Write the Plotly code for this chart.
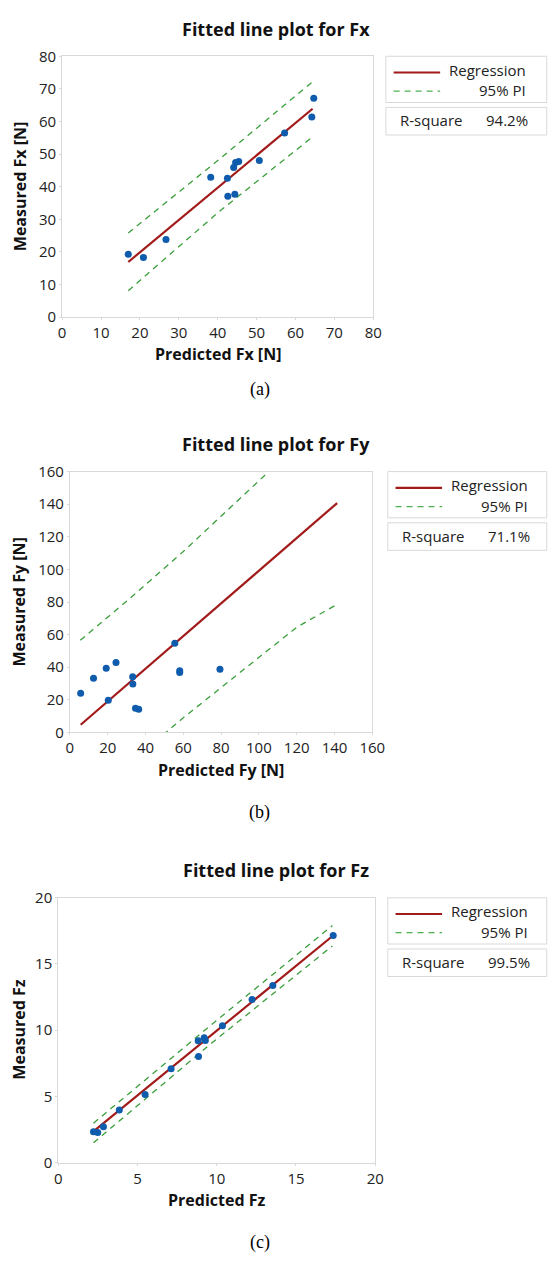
import plotly.graph_objects as go

W, H = 552, 1266

# ---------------- data ----------------
# Panel (a) Fx
pred_fx = [17.0, 20.9, 26.7, 38.2, 42.5, 42.6, 44.1, 44.6, 45.4, 44.4, 50.7, 57.2, 64.2, 64.7]
meas_fx = [19.3, 18.3, 23.8, 42.9, 42.6, 37.1, 45.9, 47.4, 47.7, 37.7, 48.0, 56.5, 61.4, 67.1]
fit_x_fx = [17.0, 64.4]
fit_y_fx = [16.9, 63.9]
pi_x_fx = [17.0, 40.0, 64.4]
pi_up_fx = [25.8, 48.0, 72.2]
pi_lo_fx = [8.1, 32.0, 55.3]
r2_fx = "94.2%"

# Panel (b) Fy
pred_fy = [5.7, 12.5, 19.2, 24.4, 20.3, 33.2, 33.3, 34.7, 36.4, 55.5, 58.1, 58.1, 79.4]
meas_fy = [24.0, 33.2, 39.3, 42.9, 19.7, 34.2, 29.7, 14.8, 14.2, 54.7, 37.8, 36.8, 38.8]
fit_x_fy = [5.7, 141.4]
fit_y_fy = [4.7, 140.7]
pi_x_fy = [5.5, 30.0, 60.0, 90.0, 120.0, 141.4]
pi_up_fy = [56.5, 80.5, 111.0, 143.0, 176.0, 203.0]
pi_lo_fy = [-46.0, -20.5, 9.0, 37.0, 64.5, 78.6]
r2_fy = "71.1%"

# Panel (c) Fz
pred_fz = [2.22, 2.49, 2.85, 3.85, 5.48, 7.12, 8.83, 8.85, 9.21, 9.28, 10.36, 12.23, 13.54, 17.35]
meas_fz = [2.33, 2.26, 2.70, 3.97, 5.13, 7.09, 9.19, 8.01, 9.42, 9.22, 10.33, 12.32, 13.38, 17.15]
fit_x_fz = [2.22, 17.35]
fit_y_fz = [2.35, 17.15]
pi_x_fz = [2.22, 9.5, 17.3]
pi_up_fz = [2.97, 10.25, 17.9]
pi_lo_fz = [1.49, 8.85, 16.36]
r2_fz = "99.5%"

titles = ["Fitted line plot for Fx", "Fitted line plot for Fy", "Fitted line plot for Fz"]
xtitles = ["Predicted Fx [N]", "Predicted Fy [N]", "Predicted Fz"]
ytitles = ["Measured Fx [N]", "Measured Fy [N]", "Measured Fz"]
captions = ["(a)", "(b)", "(c)"]
ranges = [[0, 80], [0, 160], [0, 20]]
dticks = [10, 20, 5]

# ---------------- style ----------------
RED = "#A21B1B"
GREEN = "#3A9E3A"
BLUE = "#0F5CAD"
FRAME = "#D9D9D9"
TXT = "#222222"
FONT = "Open Sans"

# plot areas in pixels: (left, right, top, bottom)
areas = [(60, 381, 46, 311), (68, 380, 468, 733), (56, 383, 901, 1170)]
legend_left = [394, 396, 396]
caption_y = [385, 814, 1251]


def px(x):
    return x / W


def py(y):
    return 1 - y / H


fig = go.Figure()

panels = [
    (pred_fx, meas_fx, fit_x_fx, fit_y_fx, pi_x_fx, pi_up_fx, pi_lo_fx, r2_fx),
    (pred_fy, meas_fy, fit_x_fy, fit_y_fy, pi_x_fy, pi_up_fy, pi_lo_fy, r2_fy),
    (pred_fz, meas_fz, fit_x_fz, fit_y_fz, pi_x_fz, pi_up_fz, pi_lo_fz, r2_fz),
]

annotations = []
shapes = []


def note(text, x, y, size, xanchor="center", color=TXT, family=FONT, angle=0):
    annotations.append(dict(text=text, x=px(x), y=py(y), xref="paper", yref="paper",
                            showarrow=False, borderpad=0, textangle=angle,
                            font=dict(family=family, size=size, color=color),
                            xanchor=xanchor, yanchor="middle"))


for i, (px_, py_, fx, fy, pix, piu, pil, r2) in enumerate(panels):
    n = "" if i == 0 else str(i + 1)
    xa, ya = "x" + n, "y" + n
    L, R, T, B = areas[i]
    fig.add_trace(go.Scatter(x=pix, y=piu, mode="lines", xaxis=xa, yaxis=ya,
                             line=dict(color=GREEN, width=1.3, dash="6px,5px"),
                             showlegend=False, hoverinfo="skip"))
    fig.add_trace(go.Scatter(x=pix, y=pil, mode="lines", xaxis=xa, yaxis=ya,
                             line=dict(color=GREEN, width=1.3, dash="6px,5px"),
                             showlegend=False, hoverinfo="skip"))
    fig.add_trace(go.Scatter(x=fx, y=fy, mode="lines", xaxis=xa, yaxis=ya,
                             line=dict(color=RED, width=2.2), showlegend=False,
                             hoverinfo="skip"))
    fig.add_trace(go.Scatter(x=px_, y=py_, mode="markers", xaxis=xa, yaxis=ya,
                             marker=dict(color=BLUE, size=7), showlegend=False))

    axcommon = dict(showgrid=False, zeroline=False, showline=True, mirror=True,
                    linecolor=FRAME, linewidth=1, ticks="outside", ticklen=2,
                    tickcolor=FRAME, tickfont=dict(family=FONT, size=15, color=TXT),
                    range=ranges[i], dtick=dticks[i], tick0=0, fixedrange=True)
    fig.update_layout(**{
        "xaxis" + n: dict(domain=[px(L), px(R)], anchor=ya, **axcommon),
        "yaxis" + n: dict(domain=[py(B), py(T)], anchor=xa, **axcommon),
    })

    # panel title
    note("<b>" + titles[i] + "</b>", 281, T - 28, 18, color="#111")
    # axis titles
    note("<b>" + xtitles[i] + "</b>", (L + R) / 2, B + 38, 16, color="#111")
    note("<b>" + ytitles[i] + "</b>", 16, (T + B) / 2, 16, color="#111", angle=-90)
    # caption
    note(captions[i], 264, caption_y[i], 18, color="#000", family="Liberation Serif")

    # legend boxes
    LL = legend_left[i]
    shapes.append(dict(type="rect", xref="paper", yref="paper",
                       x0=px(LL), x1=px(560), y0=py(T), y1=py(T + 47),
                       line=dict(color=FRAME, width=1), fillcolor="rgba(0,0,0,0)"))
    shapes.append(dict(type="rect", xref="paper", yref="paper",
                       x0=px(LL), x1=px(560), y0=py(T + 52), y1=py(T + 80),
                       line=dict(color=FRAME, width=1), fillcolor="rgba(0,0,0,0)"))
    shapes.append(dict(type="line", xref="paper", yref="paper",
                       x0=px(LL + 8), x1=px(LL + 56), y0=py(T + 16.5), y1=py(T + 16.5),
                       line=dict(color=RED, width=2.2)))
    shapes.append(dict(type="line", xref="paper", yref="paper",
                       x0=px(LL + 8), x1=px(LL + 56), y0=py(T + 35.5), y1=py(T + 35.5),
                       line=dict(color="#4CAF50", width=1.3, dash="6px,5px")))
    note("Regression", LL + 146, T + 13.5, 15, xanchor="right")
    note("95% PI", LL + 146, T + 34.5, 15, xanchor="right")
    note("R-square", LL + 14, T + 65, 15, xanchor="left")
    note(r2, LL + 148, T + 65, 15, xanchor="right")

fig.update_layout(width=W, height=H, margin=dict(l=0, r=0, t=0, b=0),
                  paper_bgcolor="white", plot_bgcolor="white",
                  showlegend=False, annotations=annotations, shapes=shapes)

fig.write_html("out.html", config={"displayModeBar": False},
               post_script="document.body.style.margin='0px';document.body.style.overflow='hidden';")
